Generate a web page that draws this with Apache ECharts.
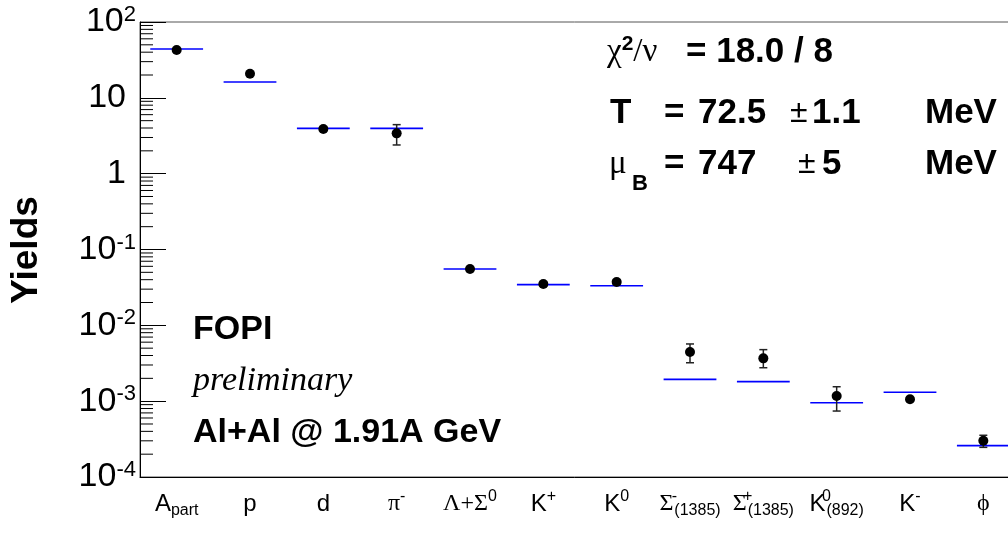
<!DOCTYPE html>
<html>
<head>
<meta charset="utf-8">
<script src="https://cdn.jsdelivr.net/npm/echarts@6/dist/echarts.min.js"></script>
<style>
  html, body { margin: 0; padding: 0; background: #fff; }
  #chart { width: 1008px; height: 540px; }
</style>
</head>
<body>
<div id="chart"></div>
<script>
// particle species (x categories)
const particles = ['Apart', 'p', 'd', 'pi-', 'Lambda+Sigma0', 'K+', 'K0',
  'Sigma-(1385)', 'Sigma+(1385)', 'K0*(892)', 'K-', 'phi'];
const particleLabels = [
  '{m|A}{sub|part}', '{m|p}', '{m|d}', '{g|π}{sup|-}', '{g|Λ+Σ}{sup|0}',
  '{m|K}{sup|+}', '{m|K}{sup|0}', '{g|Σ}{supz|-}{sub|(1385)}',
  '{g|Σ}{supz|+}{sub|(1385)}', '{m|K}{supz|0}{sub|(892)}', '{m|K}{sup|-}', '{g|ϕ}'
];

// measured yields with error band, and thermal model fit
const yieldValues = [42.7, 20.8, 3.88, 3.40, 0.0553, 0.0351, 0.0373, 0.00445, 0.00367, 0.00117, 0.00106, 0.000301];
const yieldLow    = [41.5, 20.2, 3.70, 2.39, 0.0530, 0.0330, 0.0350, 0.00321, 0.00276, 0.000741, 0.00100, 0.000246];
const yieldHigh   = [44.0, 21.4, 4.10, 4.43, 0.0580, 0.0370, 0.0400, 0.00568, 0.00478, 0.00155, 0.00112, 0.000355];
const modelValues = [44.0, 16.2, 3.96, 3.96, 0.0553, 0.0344, 0.0333, 0.00194, 0.00181, 0.000955, 0.00131, 0.000259];

// y tick labels by decade
const yTickLabels = {
  '2': '{n|10}{sup|2}', '1': '{n|10}{sp|}', '0': '{n|1}{sp|}',
  '-1': '{n|10}{sup|-1}', '-2': '{n|10}{sup|-2}', '-3': '{n|10}{sup|-3}', '-4': '{n|10}{sup|-4}'
};

// minor ticks of the log axis (2..9 per decade)
const minorTicks = [];
for (let e = -4; e < 2; e++) {
  for (let k = 2; k <= 9; k++) minorTicks.push([0, k * Math.pow(10, e)]);
}

const SANS = 'Liberation Sans';
const SERIF = 'Liberation Serif';

const chart = echarts.init(document.getElementById('chart'));

function renderMinorTick(params, api) {
  const y = api.coord([0, api.value(1)])[1];
  const x0 = params.coordSys.x;
  return {
    type: 'line',
    shape: { x1: x0, y1: y, x2: x0 + 13, y2: y },
    style: { stroke: '#000', lineWidth: 1 }
  };
}

function renderModel(params, api) {
  const c = api.coord([api.value(0), api.value(1)]);
  const half = api.size([1, 0])[0] * 0.36;
  return {
    type: 'line',
    shape: { x1: c[0] - half, y1: c[1], x2: c[0] + half, y2: c[1] },
    style: { stroke: '#0000ff', lineWidth: 1.6 }
  };
}

function renderErrorBar(params, api) {
  const x = api.coord([api.value(0), api.value(1)])[0];
  const lo = api.coord([api.value(0), api.value(2)])[1];
  const hi = api.coord([api.value(0), api.value(3)])[1];
  const st = { stroke: '#222', lineWidth: 1.5 };
  return {
    type: 'group',
    children: [
      { type: 'line', shape: { x1: x, y1: lo, x2: x, y2: hi }, style: st },
      { type: 'line', shape: { x1: x - 4, y1: lo, x2: x + 4, y2: lo }, style: st },
      { type: 'line', shape: { x1: x - 4, y1: hi, x2: x + 4, y2: hi }, style: st }
    ]
  };
}

function txt(x, y, text, font, extra) {
  return {
    type: 'text', x: x, y: y,
    style: Object.assign({ text: text, font: font, fill: '#000', textAlign: 'left', textVerticalAlign: 'middle' }, extra || {})
  };
}

const boldF = 'bold 35px "' + SANS + '"';
const pmF = '32px "' + SANS + '"';

const option = {
  animation: false,
  backgroundColor: '#fff',
  grid: {
    left: 140, top: 22, right: -12, bottom: 63,
    show: true, borderColor: '#555', borderWidth: 1,
    containLabel: false, outerBoundsMode: 'none'
  },
  xAxis: {
    type: 'category',
    data: particles,
    boundaryGap: true,
    axisLine: { lineStyle: { color: '#000', width: 1 } },
    axisTick: { inside: true, length: 13, lineStyle: { color: '#000' } },
    splitLine: { show: false },
    axisLabel: {
      margin: 12,
      interval: 0,
      formatter: function (v, i) { return particleLabels[i]; },
      rich: {
        m: { fontFamily: SANS, fontSize: 24, color: '#000', lineHeight: 30, verticalAlign: 'middle' },
        g: { fontFamily: SERIF, fontSize: 24, color: '#000', lineHeight: 30, verticalAlign: 'middle' },
        sup: { fontFamily: SANS, fontSize: 16, color: '#000', lineHeight: 16, verticalAlign: 'top' },
        supz: { fontFamily: SANS, fontSize: 16, color: '#000', lineHeight: 14, verticalAlign: 'top', width: 0, padding: [0, 0, 0, 1] },
        sub: { fontFamily: SANS, fontSize: 16, color: '#000', lineHeight: 16, verticalAlign: 'bottom' }
      }
    }
  },
  yAxis: {
    type: 'log',
    logBase: 10,
    min: 1e-4,
    max: 100,
    splitNumber: 6,
    axisLine: { show: true, lineStyle: { color: '#000', width: 1 } },
    axisTick: { show: true, inside: true, length: 26, lineStyle: { color: '#000' } },
    splitLine: { show: false },
    axisLabel: {
      margin: 4,
      formatter: function (v) {
        const e = Math.round(Math.log10(v));
        return yTickLabels[String(e)] || '';
      },
      rich: {
        n: { fontFamily: SANS, fontSize: 34, color: '#000', lineHeight: 36, verticalAlign: 'middle' },
        sup: { fontFamily: SANS, fontSize: 22, color: '#000', lineHeight: 22, verticalAlign: 'top' },
        sp: { width: 10 }
      }
    }
  },
  series: [
    {
      type: 'custom', name: 'minor ticks', renderItem: renderMinorTick,
      data: minorTicks, silent: true, clip: false
    },
    {
      type: 'custom', name: 'model', renderItem: renderModel,
      data: particles.map(function (p, i) { return [i, modelValues[i]]; }),
      encode: { x: 0, y: 1 }, z: 3
    },
    {
      type: 'custom', name: 'errors', renderItem: renderErrorBar,
      data: particles.map(function (p, i) { return [i, yieldValues[i], yieldLow[i], yieldHigh[i]]; }),
      encode: { x: 0, y: [1, 2, 3] }, z: 4
    },
    {
      type: 'scatter', name: 'data',
      data: particles.map(function (p, i) { return [i, yieldValues[i]]; }),
      symbol: 'circle', symbolSize: 10,
      itemStyle: { color: '#000', opacity: 1 }, z: 5
    }
  ],
  graphic: [
    {
      type: 'text', x: 27, y: 250, rotation: Math.PI / 2,
      style: { text: 'Yields', font: 'bold 37px "' + SANS + '"', fill: '#000', textAlign: 'center', textVerticalAlign: 'middle' }
    },
    txt(193, 330, 'FOPI', 'bold 34px "' + SANS + '"'),
    txt(193, 381, 'preliminary', 'italic 34px "' + SERIF + '"'),
    txt(193, 433, 'Al+Al @ 1.91A GeV', 'bold 34px "' + SANS + '"'),
    // fit results
    {
      type: 'text', x: 607, y: 52,
      style: {
        text: '{g|χ}{s|2}{g|/ν}', fill: '#000', textVerticalAlign: 'middle',
        rich: {
          g: { fontFamily: SERIF, fontSize: 33, lineHeight: 36, verticalAlign: 'middle' },
          s: { fontFamily: SANS, fontWeight: 'bold', fontSize: 21, lineHeight: 20, verticalAlign: 'top' }
        }
      }
    },
    txt(686, 52, '= 18.0 / 8', boldF),
    txt(610, 113, 'T', boldF),
    txt(664, 113, '=', boldF),
    txt(698, 113, '72.5', boldF),
    txt(790, 113, '±', pmF),
    txt(812, 113, '1.1', boldF),
    txt(925, 113, 'MeV', boldF),
    txt(609, 164, 'μ', '33px "' + SERIF + '"'),
    txt(632, 184, 'B', 'bold 22px "' + SANS + '"'),
    txt(664, 164, '=', boldF),
    txt(698, 164, '747', boldF),
    txt(798, 164, '±', pmF),
    txt(822, 164, '5', boldF),
    txt(925, 164, 'MeV', boldF)
  ]
};

chart.setOption(option);
</script>
</body>
</html>
